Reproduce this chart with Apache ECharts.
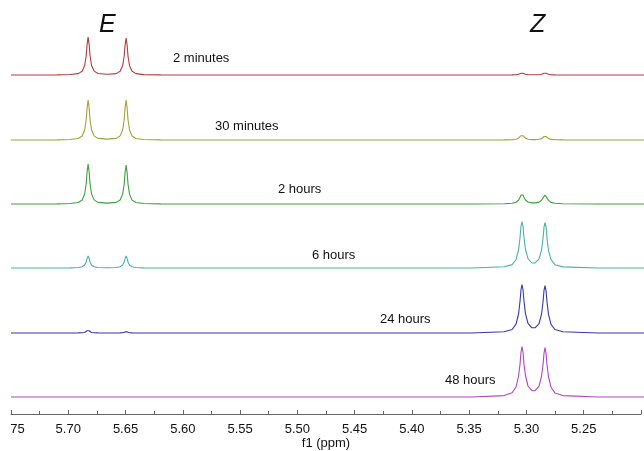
<!DOCTYPE html>
<html>
<head>
<meta charset="utf-8">
<script src="https://cdn.jsdelivr.net/npm/echarts@6/dist/echarts.min.js"></script>
<style>
html,body{margin:0;padding:0;background:#fff;}
#chart{width:644px;height:451px;}
</style>
</head>
<body>
<div id="chart"></div>
<script>
// chemical shift grid (ppm), shared by all spectra
const ppm = [5.7500,
  5.7100, 5.6985, 5.6916, 5.6882, 5.6860, 5.6847, 5.6839, 5.6830, 5.6821, 5.6813, 5.6800, 5.6778, 5.6744,
  5.6665,
  5.6586, 5.6552, 5.6530, 5.6517, 5.6509, 5.6500, 5.6491, 5.6483, 5.6470, 5.6448, 5.6414, 5.6345, 5.6200,
  5.4000, 5.3500,
  5.3215, 5.3146, 5.3112, 5.3090, 5.3077, 5.3069, 5.3060, 5.3051, 5.3043, 5.3030, 5.3008, 5.2974,
  5.2960,
  5.2946, 5.2912, 5.2890, 5.2877, 5.2869, 5.2860, 5.2851, 5.2843, 5.2830, 5.2808, 5.2774, 5.2705,
  5.2400, 5.2000];

const spectrumLabels = ['2 minutes', '30 minutes', '2 hours', '6 hours', '24 hours', '48 hours'];

// intensities (arbitrary units) for each time point
const int2min = [0,
  0.1,0.5,1.4,3.8,9.5,19,30.4,38,30.4,19,9.5,3.9,1.5,
  0.8,
  1.4,3.7,9.3,18.5,29.6,37,29.6,18.5,9.3,3.7,1.4,0.4,0.1,
  0,0,
  0.05,0.13,0.3,0.7,1.2,1.7,2,1.7,1.2,0.7,0.3,0.2,
  0.2,
  0.2,0.3,0.7,1.2,1.7,2,1.7,1.2,0.7,0.3,0.13,0.05,
  0,0];
const int30min = [0,
  0.1,0.5,1.5,4,10,20,32,40,32,20,10,4.1,1.6,
  0.9,
  1.6,4.1,10,20,32,40,32,20,10,4,1.5,0.5,0.1,
  0,0,
  0.1,0.3,0.8,1.8,3.1,4.3,5,4.3,3.1,1.8,0.8,0.4,
  0.4,
  0.4,0.7,1.4,2.5,3.5,4,3.5,2.5,1.4,0.6,0.26,0.1,
  0,0];
const int2h = [0,
  0.1,0.5,1.5,4,10,20,32,40,32,20,10,4.1,1.6,
  0.9,
  1.6,4,9.8,19.5,31.2,39,31.2,19.5,9.8,3.9,1.5,0.5,0.1,
  0,0,
  0.3,0.7,1.8,3.8,6.6,9,10,9,6.6,4,2,1.1,
  1.0,
  1.1,1.9,3.7,6.1,8.1,9,8.1,6.1,3.6,1.6,0.7,0.3,
  0,0];
const int6h = [0,
  0,0.1,0.5,1.2,3,6,9.6,12,9.6,6,3,1.2,0.5,
  0.3,
  0.5,1.2,3,6,9.6,12,9.6,6,3,1.2,0.5,0.1,0,
  0,0,
  1.2,3.4,8.5,18,30.5,41.5,46.5,41.5,30.7,18.5,9.3,5,
  4.8,
  5.1,9.2,18,30,40.8,45.5,40.7,30,17.7,8.4,3.3,1.1,
  0,0];
const int24h = [0,
  0,0,0.1,0.2,0.5,1.2,2.2,3.2,2.2,1.2,0.5,0.2,0.1,
  0,
  0,0.1,0.3,0.6,1.1,1.6,1.1,0.6,0.3,0.1,0,0,0,
  0,0,
  1.2,3.5,8.8,19,32,43,48.5,43,32.2,19.4,9.6,5.2,
  5,
  5.2,9.4,19,31.5,42.3,47.5,42.2,31.5,18.6,8.6,3.5,1.2,
  0,0];
const int48h = [0,
  0,0,0,0,0,0,0,0,0,0,0,0,0,
  0,
  0,0,0,0,0,0,0,0,0,0,0,0,0,
  0,0,
  1.4,4.2,10,21,33,44.5,50.5,44.5,33,21.5,11,6.3,
  6,
  6.3,10.8,21,32.5,43.5,49.5,43.5,32.5,20.5,9.8,4.1,1.4,
  0,0];

const spectra = [int2min, int30min, int2h, int6h, int24h, int48h];
const colors = ['#b23c3e', '#a3a236', '#3fa13f', '#4ab2a8', '#3838a6', '#b246bd'];
const baselines = [75, 140, 204, 268, 333, 397];
const labelPos = [[173, 59], [215, 127], [278, 190], [312, 256], [380, 320], [445, 381]];

const FONT = '"Liberation Sans", Arial, Helvetica, sans-serif';
const X_MIN = 5.20, X_MAX = 5.75;

const grids = [], xAxes = [], yAxes = [], series = [], graphics = [];
spectra.forEach((vals, i) => {
  grids.push({left: 11, width: 640, top: baselines[i] - 60, height: 62});
  xAxes.push({type: 'value', gridIndex: i, min: X_MIN, max: X_MAX, inverse: true, show: false});
  yAxes.push({type: 'value', gridIndex: i, min: -2, max: 60, show: false});
  series.push({
    type: 'line', xAxisIndex: i, yAxisIndex: i, name: spectrumLabels[i],
    data: ppm.map((x, k) => [x, vals[k]]),
    showSymbol: false, symbol: 'none', smooth: false, clip: false,
    lineStyle: {color: colors[i], width: 1.1},
    silent: true, animation: false
  });
  graphics.push({
    type: 'text', left: labelPos[i][0], top: labelPos[i][1] - 7,
    style: {text: spectrumLabels[i], font: '13px ' + FONT, fill: '#111'}
  });
});
// axis grid
grids.push({left: 11, width: 640, top: 400, height: 17});
xAxes.push({
  type: 'value', gridIndex: 6, min: X_MIN, max: X_MAX, inverse: true, interval: 0.05,
  position: 'bottom',
  name: 'f1 (ppm)', nameLocation: 'middle', nameGap: 23,
  nameTextStyle: {fontFamily: FONT, fontSize: 13, color: '#111'},
  axisLine: {lineStyle: {color: '#666', width: 1}},
  axisTick: {inside: true, length: 4, lineStyle: {color: '#666'}},
  minorTick: {show: true, splitNumber: 2, length: 3, lineStyle: {color: '#666'}},
  splitLine: {show: false},
  axisLabel: {
    margin: 9, fontFamily: FONT, fontSize: 13, color: '#111',
    showMinLabel: true, showMaxLabel: true,
    formatter: v => {
      if (v < 5.21) return '';
      if (v > 5.74) return '{c|75}';
      return v.toFixed(2);
    },
    rich: {c: {padding: [0, 0, 0, 13], fontFamily: FONT, fontSize: 13, color: '#111'}}
  }
});
yAxes.push({type: 'value', gridIndex: 6, show: false, min: 0, max: 1});

graphics.push({type: 'text', left: 99, top: 13,
  style: {text: 'E', font: 'italic 25px ' + FONT, fill: '#111'}});
graphics.push({type: 'text', left: 530, top: 13,
  style: {text: 'Z', font: 'italic 25px ' + FONT, fill: '#111'}});

const chart = echarts.init(document.getElementById('chart'), null, {renderer: 'canvas'});
chart.setOption({
  animation: false,
  backgroundColor: '#fff',
  grid: grids, xAxis: xAxes, yAxis: yAxes, series: series, graphic: graphics
});
</script>
</body>
</html>
